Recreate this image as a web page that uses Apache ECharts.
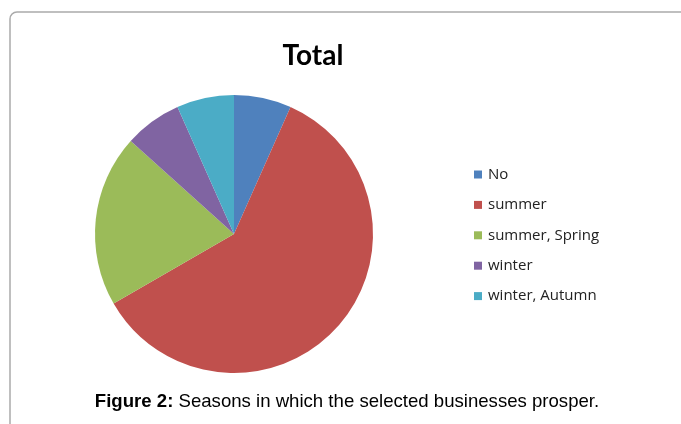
<!DOCTYPE html>
<html><head><meta charset="utf-8">
<script src="https://cdn.jsdelivr.net/npm/echarts@6/dist/echarts.min.js"></script>
<style>html,body{margin:0;padding:0;background:#fff}#c{width:681px;height:424px}</style>
</head><body><div id="c"></div>
<script>
const categories = ["No", "summer", "summer, Spring", "winter", "winter, Autumn"];
const values = [1, 9, 3, 1, 1];
const colors = ["#4F81BD", "#C0504D", "#9BBB59", "#8064A2", "#4BACC6"];

const chart = echarts.init(document.getElementById('c'), null, {renderer: 'canvas'});
chart.setOption({
  backgroundColor: '#fff',
  animation: false,
  title: {
    text: 'Total', left: 308, top: 37, textAlign: 'center',
    textStyle: {fontFamily: 'Lato', fontWeight: 'bold', fontSize: 28, color: '#000'}
  },
  legend: {
    orient: 'vertical', left: 469, top: 162,
    itemWidth: 8, itemHeight: 8, itemGap: 15.4,
    icon: 'rect',
    textStyle: {fontFamily: 'Open Sans', fontSize: 15, color: '#222', lineHeight: 14, padding: [0, 0, 0, 1]},
    data: categories
  },
  graphic: [
    {type: 'rect', shape: {x: 10, y: 12, width: 700, height: 440, r: 7},
     style: {fill: 'none', stroke: '#aaaaaa', lineWidth: 1.5}},
    {type: 'text', x: 347, y: 392,
     style: {
       text: '{b|Figure 2:} Seasons in which the selected businesses prosper.',
       rich: {b: {fontFamily: 'Liberation Sans', fontWeight: 'bold', fontSize: 18.6, fill: '#000'}},
       fontFamily: 'Liberation Sans', fontSize: 18.6, fill: '#000', align: 'center'
     }}
  ],
  series: [{
    type: 'pie', center: [234, 234], radius: 139, startAngle: 90, clockwise: true,
    label: {show: false}, labelLine: {show: false},
    itemStyle: {borderWidth: 0},
    emphasis: {disabled: true},
    data: categories.map((n, i) => ({name: n, value: values[i], itemStyle: {color: colors[i]}}))
  }]
});
</script></body></html>
